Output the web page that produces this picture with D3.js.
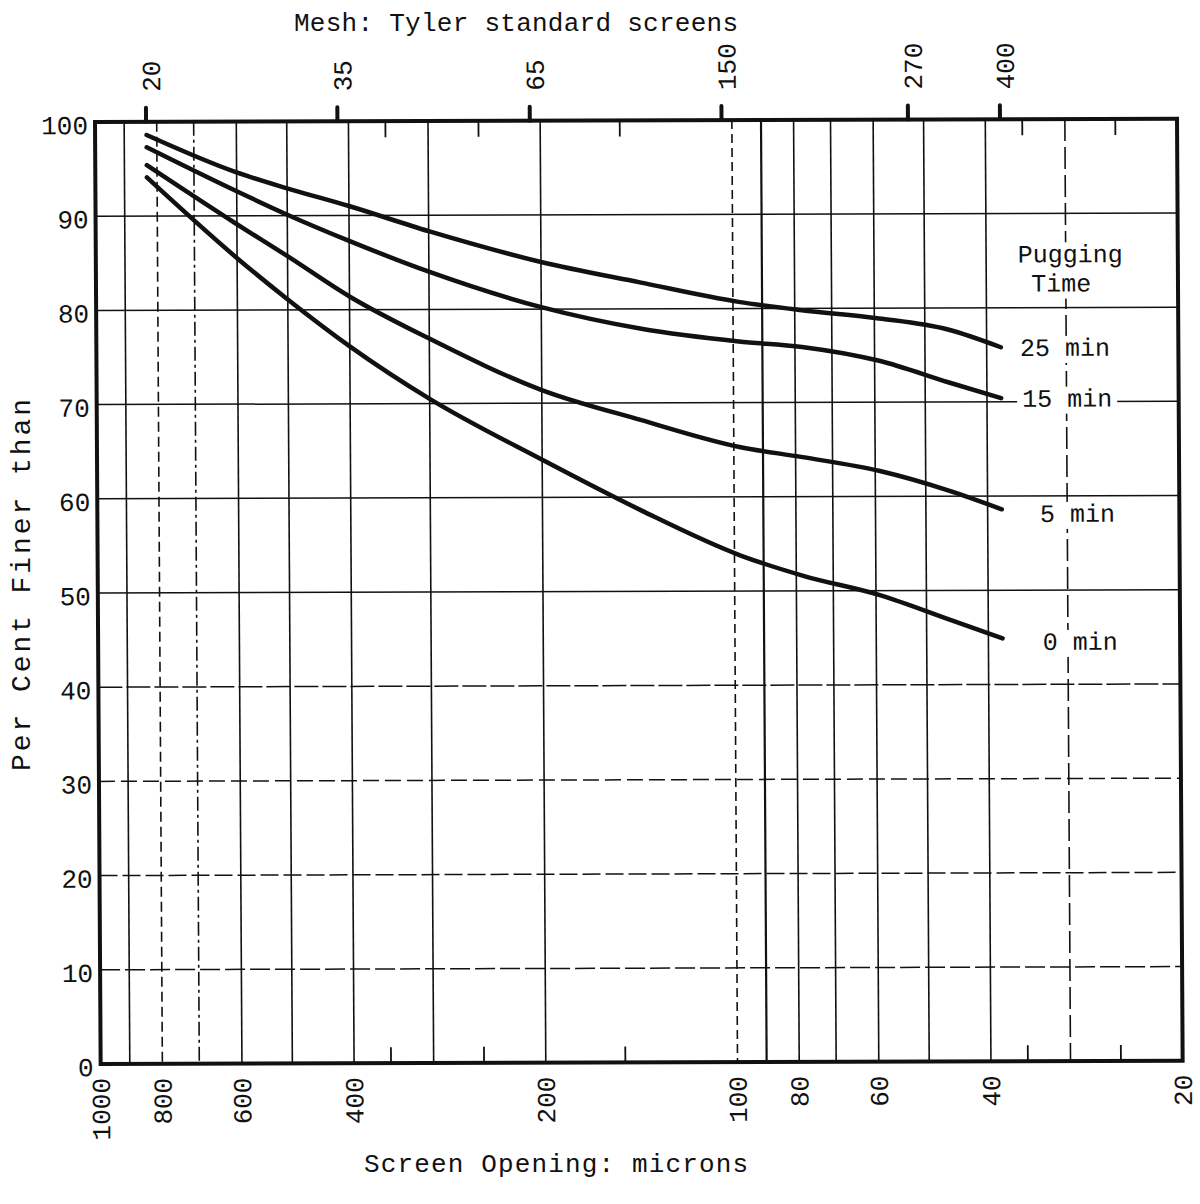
<!DOCTYPE html>
<html>
<head>
<meta charset="utf-8">
<script src="https://cdn.jsdelivr.net/npm/d3@7"></script>
<style>
  body { margin: 0; background: #fff; }
  svg text { font-family: "Liberation Mono", "DejaVu Sans Mono", monospace; fill: #111; }
</style>
</head>
<body>
<svg id="chart" width="1200" height="1204"></svg>
<script>
const sizes = [830, 600, 500, 400, 300, 200, 140, 98, 78, 59, 46, 38];

// per cent finer than, one array per pugging time
const pct25 = [98.6, 94.6, 92.9, 91.0, 88.3, 85.0, 82.8, 80.7, 79.8, 78.9, 77.7, 75.8];
const pct15 = [97.3, 92.6, 90.1, 87.3, 84.0, 80.2, 77.9, 76.5, 75.9, 74.4, 72.1, 70.4];
const pct5  = [95.4, 89.1, 85.7, 81.4, 76.9, 71.4, 68.2, 65.3, 64.2, 62.7, 60.6, 58.6];
const pct0  = [94.1, 85.5, 81.1, 76.1, 70.5, 64.0, 58.6, 53.8, 51.6, 49.5, 46.9, 44.9];

const seriesNames = ["25 min", "15 min", "5 min", "0 min"];
const seriesValues = [pct25, pct15, pct5, pct0];

// axes
const micronTicks = [1000, 800, 600, 400, 200, 100, 80, 60, 40, 20];
const gridMicrons = [900, 800, 700, 600, 500, 400, 300, 200, 100, 90, 80, 70, 60, 50, 40, 30];
const minorMicrons = [350, 250, 150, 35, 25];
const meshMicrons = [833, 417, 208, 104, 53, 38];
const meshLabels = ["20", "35", "65", "150", "270", "400"];
const pctTicks = [0, 10, 20, 30, 40, 50, 60, 70, 80, 90, 100];

const W = 1082, H = 942;
const svg = d3.select("#chart");

// the scanned sheet is a little skewed, so the plot group is too
const g = svg.append("g")
    .attr("transform", "matrix(1,-0.003,0.006,1,95,122)");

const x = d3.scaleLog().domain([1000, 20]).range([0, W]);
const y = d3.scaleLinear().domain([0, 100]).range([H, 0]);

// vertical grid
const dashedV = {800: "10,5", 700: "14,4,3,4", 100: "9,5", 30: "22,6"};
g.append("g")
    .selectAll("line")
    .data(gridMicrons)
    .join("line")
      .attr("x1", d => x(d)).attr("x2", d => x(d))
      .attr("y1", 0).attr("y2", H)
      .attr("stroke", "#111")
      .attr("stroke-width", d => d == 90 ? 2.2 : 1.6)
      .attr("stroke-dasharray", d => dashedV[d] || null);

// short ticks top and bottom
g.append("g")
    .selectAll("line")
    .data(minorMicrons.flatMap(d => [[d, 0, 16], [d, H, H - 16]]))
    .join("line")
      .attr("x1", d => x(d[0])).attr("x2", d => x(d[0]))
      .attr("y1", d => d[1]).attr("y2", d => d[2])
      .attr("stroke", "#111")
      .attr("stroke-width", 1.8);

// horizontal grid
const dashedH = {30: "16,6", 20: "18,5", 10: "20,5", 40: "24,4"};
g.append("g")
    .selectAll("line")
    .data(pctTicks.filter(d => d > 0 && d < 100))
    .join("line")
      .attr("x1", 0).attr("x2", W)
      .attr("y1", d => y(d)).attr("y2", d => y(d))
      .attr("stroke", "#111")
      .attr("stroke-width", 1.5)
      .attr("stroke-dasharray", d => dashedH[d] || null);

// y labels
g.append("g")
    .selectAll("text")
    .data(pctTicks)
    .join("text")
      .attr("x", -7)
      .attr("y", d => y(d) + 3)
      .attr("dy", "0.35em")
      .attr("text-anchor", "end")
      .attr("font-size", 26)
      .text(d => d);

// bottom axis: screen opening
const bottomAxis = g.append("g")
    .attr("transform", `translate(0,${H})`)
    .call(d3.axisBottom(x).tickValues(micronTicks).tickSize(0).tickFormat(d3.format("d")));
bottomAxis.select(".domain").remove();
bottomAxis.selectAll("text")
    .attr("transform", "rotate(-90)")
    .attr("text-anchor", "end")
    .attr("x", -14)
    .attr("y", 0)
    .attr("dy", "0.33em")
    .attr("font-size", 26)
    .attr("fill", null);
bottomAxis.attr("font-family", null).attr("font-size", null);

// top axis: mesh
const meshAxis = g.append("g")
    .call(d3.axisTop(x).tickValues(meshMicrons).tickSize(14).tickFormat((d, i) => meshLabels[i]));
meshAxis.select(".domain").remove();
meshAxis.selectAll("line").attr("stroke", "#111").attr("stroke-width", 4).attr("stroke-linecap", "round");
meshAxis.selectAll("text")
    .attr("transform", "rotate(-90)")
    .attr("text-anchor", "start")
    .attr("x", 30)
    .attr("y", 0)
    .attr("dy", "0.55em")
    .attr("font-size", 26)
    .attr("fill", null);
meshAxis.attr("font-family", null).attr("font-size", null);

// legend labels at the curve ends (white boxes break the grid like the original)
const labelDx = [19, 21, 38, 40];
const labelDy = [0, 0, 4, 3];
const legend = g.append("g");
const labels = legend.selectAll("g")
    .data(seriesNames)
    .join("g");
labels.append("text")
    .attr("x", (d, i) => x(sizes[sizes.length - 1]) + labelDx[i])
    .attr("y", (d, i) => y(seriesValues[i][sizes.length - 1]) + labelDy[i])
    .attr("dy", "0.35em")
    .attr("font-size", 25)
    .text(d => d);

const head = legend.append("g");
head.append("text")
    .attr("x", x(29.5)).attr("y", y(84.8))
    .attr("text-anchor", "middle")
    .attr("font-size", 25)
    .text("Pugging");
head.append("text")
    .attr("x", x(30.5)).attr("y", y(81.7))
    .attr("text-anchor", "middle")
    .attr("font-size", 25)
    .text("Time");

legend.selectAll("g").each(function() {
  const grp = d3.select(this);
  const b = grp.node().getBBox();
  grp.insert("rect", ":first-child")
      .attr("x", b.x - 5).attr("y", b.y + 1)
      .attr("width", b.width + 10).attr("height", b.height - 2)
      .attr("fill", "#fff");
});

// curves
const line = d3.line()
    .x((d, i) => x(sizes[i]))
    .y(d => y(d))
    .curve(d3.curveMonotoneX);

g.append("g")
    .selectAll("path")
    .data(seriesValues)
    .join("path")
      .attr("d", line)
      .attr("fill", "none")
      .attr("stroke", "#111")
      .attr("stroke-width", 4.5)
      .attr("stroke-linecap", "round");

// frame
g.append("rect")
    .attr("x", 0).attr("y", 0)
    .attr("width", W).attr("height", H)
    .attr("fill", "none")
    .attr("stroke", "#111")
    .attr("stroke-width", 4);

// titles
svg.append("text")
    .attr("x", 516).attr("y", 31)
    .attr("text-anchor", "middle")
    .attr("font-size", 26)
    .attr("textLength", 444)
    .text("Mesh: Tyler standard screens");

svg.append("text")
    .attr("x", 556).attr("y", 1172)
    .attr("text-anchor", "middle")
    .attr("font-size", 26)
    .attr("textLength", 384)
    .text("Screen Opening: microns");

svg.append("text")
    .attr("transform", "translate(30,585) rotate(-90)")
    .attr("text-anchor", "middle")
    .attr("font-size", 28)
    .attr("textLength", 372)
    .text("Per Cent Finer than");
</script>
</body>
</html>
